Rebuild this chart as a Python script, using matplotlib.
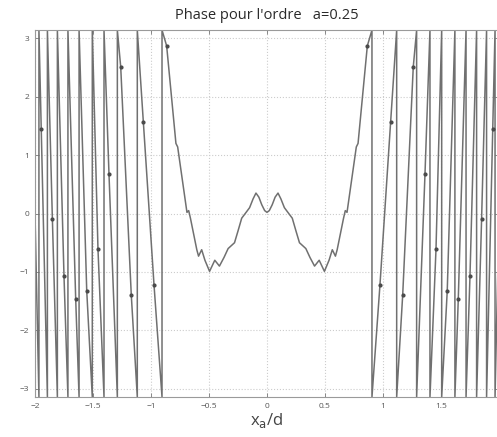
import numpy as np
import matplotlib
matplotlib.use("Agg")
import matplotlib.pyplot as plt

PI = np.pi

# wrapped phase (left wrap segments, centre lobe, right wrap segments)
left_x = [-2.0, -1.966, -1.966, -1.946, -1.893, -1.893, -1.85, -1.807, -1.807, -1.75, -1.716,
          -1.716, -1.649, -1.62, -1.62, -1.554, -1.506, -1.506, -1.457, -1.405, -1.405, -1.362,
          -1.29, -1.29, -1.261, -1.17, -1.118, -1.118, -1.066, -0.974, -0.905]
left_y = [0.0, -PI, PI, 1.44, -PI, PI, -0.10, -PI, PI, -1.07, -PI,
          PI, -1.47, -PI, PI, -1.32, -PI, PI, -0.61, -PI, PI, 0.67,
          -PI, PI, 2.51, -1.39, -PI, PI, 1.57, -1.22, -PI]

centre_x = [-0.905, -0.865, -0.785, -0.770, -0.69, -0.675, -0.66, -0.605, -0.59, -0.563,
            -0.535, -0.495, -0.45, -0.41, -0.37, -0.335, -0.28, -0.25, -0.218, -0.18,
            -0.15, -0.12, -0.095, -0.07, -0.045, -0.02, 0.0,
            0.02, 0.045, 0.07, 0.095, 0.12, 0.15, 0.18, 0.218, 0.25, 0.28, 0.335, 0.37,
            0.41, 0.45, 0.495, 0.535, 0.563, 0.59, 0.605, 0.66, 0.675, 0.69, 0.770, 0.785,
            0.865, 0.905]
centre_y = [PI, 2.87, 1.20, 1.14, 0.02, 0.05, -0.08, -0.62, -0.73, -0.62,
            -0.80, -0.99, -0.80, -0.90, -0.75, -0.60, -0.50, -0.30, -0.08, 0.02,
            0.10, 0.25, 0.35, 0.28, 0.15, 0.05, 0.02,
            0.05, 0.15, 0.28, 0.35, 0.25, 0.10, 0.02, -0.08, -0.30, -0.50, -0.60, -0.75,
            -0.90, -0.80, -0.99, -0.80, -0.62, -0.73, -0.62, -0.08, 0.05, 0.02, 1.14, 1.20,
            2.87, PI]

right_x = [0.905, 0.974, 1.066, 1.118, 1.118, 1.17, 1.261, 1.29, 1.29, 1.362, 1.405,
           1.405, 1.457, 1.506, 1.506, 1.554, 1.62, 1.62, 1.649, 1.716, 1.716, 1.75,
           1.807, 1.807, 1.85, 1.893, 1.893, 1.946, 1.966, 1.966, 2.0]
right_y = [-PI, -1.22, 1.57, PI, -PI, -1.39, 2.51, PI, -PI, 0.67, PI,
           -PI, -0.61, PI, -PI, -1.32, PI, -PI, -1.47, PI, -PI, -1.07,
           PI, -PI, -0.10, PI, -PI, 1.44, PI, -PI, 0.0]

# small dark blobs at the kinks
kink_x = [-1.946, -1.85, -1.75, -1.649, -1.554, -1.457, -1.362, -1.261, -1.17, -1.066, -0.974,
          -0.865, 0.865, 0.974, 1.066, 1.17, 1.261, 1.362, 1.457, 1.554, 1.649, 1.75, 1.85, 1.946]
kink_y = [1.44, -0.10, -1.07, -1.47, -1.32, -0.61, 0.67, 2.51, -1.39, 1.57, -1.22,
          2.87, 2.87, -1.22, 1.57, -1.39, 2.51, 0.67, -0.61, -1.32, -1.47, -1.07, -0.10, 1.44]

xticks = [-2, -1.5, -1, -0.5, 0, 0.5, 1, 1.5, 2]
xtick_labels = ['\u22122', '\u22121.5', '\u22121', '\u22120.5', '0', '0.5', '1', '1.5', '2']
yticks = [-3, -2, -1, 0, 1, 2, 3]
ytick_labels = ['\u22123', '\u22122', '\u22121', '0', '1', '2', '3']

plt.rcParams['font.family'] = ['Open Sans', 'DejaVu Sans']

fig = plt.figure(figsize=(4.97, 4.37), dpi=100)
ax = fig.add_axes([0.0704, 0.0915, 0.9336, 0.8398])

x = left_x + centre_x + right_x
y = left_y + centre_y + right_y
ax.plot(x, y, color='#707070', linewidth=1.1, solid_joinstyle='round')
ax.plot(kink_x, kink_y, linestyle='none', marker='o', markersize=2.0, color='#4a4a4a')

ax.set_xlim(-2, 2)
ax.set_ylim(-PI, PI)
ax.set_xticks(xticks)
ax.set_xticklabels(xtick_labels)
ax.set_yticks(yticks)
ax.set_yticklabels(ytick_labels)
ax.tick_params(direction='in', length=3, width=0.6, colors='#777777', labelcolor='#555555',
               labelsize=6, top=True, right=True, pad=4)
ax.grid(True, linestyle=':', color='#cccccc', linewidth=0.8)
for s in ax.spines.values():
    s.set_color('#9a9a9a')
    s.set_linewidth(0.8)

ax.set_title("Phase pour l'ordre   a=0.25", fontsize=10.5, color='#2a2a2a', pad=8)
ax.set_xlabel(r'x$_{\mathrm{a}}$/d', fontsize=12, color='#444444', labelpad=1)

fig.savefig('out.png', dpi=100)
